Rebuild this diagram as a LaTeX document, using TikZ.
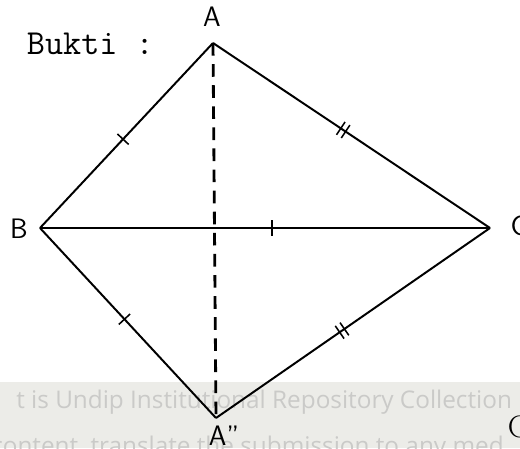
\documentclass[tikz,border=0pt]{standalone}
\usepackage{fontspec}
\newfontfamily\wmfont{Open Sans}
\definecolor{wmgray}{RGB}{236,236,232}
\definecolor{wmtext}{RGB}{202,202,200}
\tikzset{
  side/.style={line width=1.4pt},
  height/.style={line width=2pt, dash pattern=on 9pt off 6pt},
  vertexlabel/.style={font=\sffamily\fontsize{20}{22}\selectfont},
  onetick/.style={sloped, inner sep=0pt},
  watermark/.style={font=\wmfont\fontsize{17.3}{19}\selectfont, text=wmtext, anchor=base west, inner sep=0pt}
}
\newcommand{\singlemark}{\rule{1.1pt}{11pt}}
\newcommand{\doublemark}{\rule{1.1pt}{11pt}\hspace{3pt}\rule{1.1pt}{11pt}}

\begin{document}
\begin{tikzpicture}[x=0.025cm, y=-0.025cm]
    \useasboundingbox (0,0) rectangle (520,448);
    \clip (0,0) rectangle (520,448);

    % watermark strip
    \fill[wmgray] (0,382) rectangle (520,448);
    \node[watermark] (wm1) at (16,408) {t is Undip Institutional Repository Collection};
    \node[watermark] (wm2) at (-9,454) {content, translate the submission to any med};
    \node[font=\fontsize{22}{24}\selectfont, anchor=west] (g) at (503,427) {G};

    % title
    \node[font=\ttfamily\fontsize{25}{27}\selectfont, anchor=west] (title) at (22,44) {Bukti :};

    % kite
    \coordinate (A) at (213,43);
    \coordinate (B) at (40,228);
    \coordinate (C) at (490,228);
    \coordinate (A2) at (216,418);

    \node[vertexlabel] (la) at (212,17) {A};
    \node[vertexlabel] (lb) at (19,229) {B};
    \node[vertexlabel] (lc) at (519,226) {C};
    \node[vertexlabel] (la2) at (224,436) {A''};

    \draw[height] (A) -- (A2);
    \draw[side] (A) -- (B) node[pos=0.52, onetick] {\singlemark};
    \draw[side] (A) -- (C) node[pos=0.47, onetick] {\doublemark};
    \draw[side] (B) -- (C) node[pos=0.515, onetick] {\singlemark};
    \draw[side] (B) -- (A2) node[pos=0.48, onetick] {\singlemark};
    \draw[side] (C) -- (A2) node[pos=0.54, onetick] {\doublemark};
\end{tikzpicture}
\end{document}
